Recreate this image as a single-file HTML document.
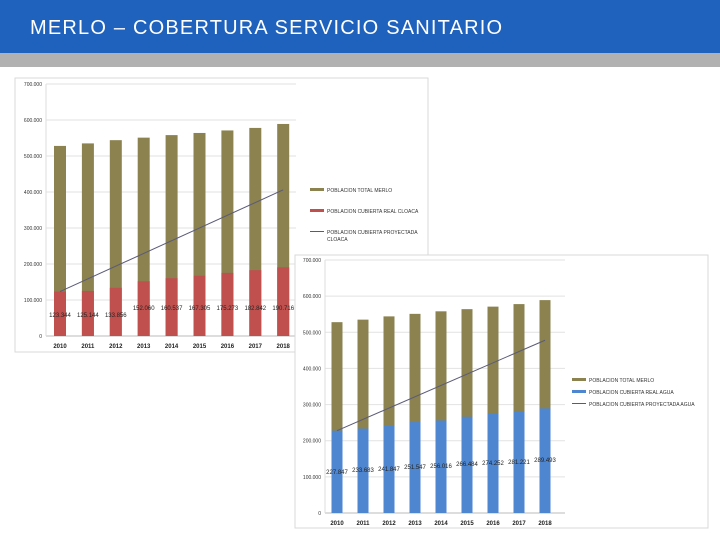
<!DOCTYPE html>
<html><head><meta charset="utf-8"><style>
html,body{margin:0;padding:0;background:#fff;width:720px;height:540px;overflow:hidden;font-family:"Liberation Sans",sans-serif}
#hdr{position:absolute;left:0;top:0;width:720px;height:53px;background:#1f62bd}
#hdr span{position:absolute;left:30px;top:17px;color:#fff;font-size:20px;letter-spacing:1.2px}
#strip{position:absolute;left:0;top:53px;width:720px;height:14px;background:#b1b1b1}
svg{position:absolute;left:0;top:0}
</style></head><body>
<div id="hdr"><span>MERLO – COBERTURA SERVICIO SANITARIO</span></div>
<div id="strip"></div>
<svg id="s" width="720" height="540"></svg>
<script>
const years=["2010","2011","2012","2013","2014","2015","2016","2017","2018"];
const totals=[528000,535000,544000,551000,558000,564000,571000,578000,589000];
const cloaca=[123344,125144,133856,152060,160537,167305,175273,182842,190716];
const cloacaLabels=["123.344","125.144","133.856","152.060","160.537","167.305","175.273","182.842","190.716"];
const cloacaProj=[123344,406000];
const agua=[227847,233683,241847,251547,256016,266484,274252,281221,289493];
const aguaLabels=["227.847","233.683","241.847","251.547","256.016","266.484","274.252","281.221","289.493"];
const aguaProj=[227847,478000];
const yTicks=[0,100000,200000,300000,400000,500000,600000,700000];
const yTickLabels=["0","100.000","200.000","300.000","400.000","500.000","600.000","700.000"];

const svg=document.getElementById('s');
const NS="http://www.w3.org/2000/svg";
function el(t,a,txt){const e=document.createElementNS(NS,t);for(const k in a)e.setAttribute(k,a[k]);if(txt!==undefined)e.textContent=txt;svg.appendChild(e);return e;}

function chart(cfg){
  const y=v=>cfg.y0-v*(cfg.y0-cfg.y7)/700000;
  const x=i=>cfg.x0+i*cfg.step;
  const fr=el('rect',{x:cfg.fx,y:cfg.fy,width:cfg.fw,height:cfg.fh,fill:'#fff',stroke:'#d9d9d9','stroke-width':1});
  
  
  yTicks.forEach((t,i)=>{
    if(t>0){const g=el('line',{x1:cfg.px,x2:cfg.px+cfg.pw,y1:y(t),y2:y(t),stroke:'#e2e2e2','stroke-width':1});
    
    }
    const l=el('text',{x:cfg.px-4,y:y(t)+2,'font-size':5,'text-anchor':'end',fill:'#333'},yTickLabels[i]);
    
    
  });
  const ax=el('line',{x1:cfg.px,x2:cfg.px+cfg.pw,y1:y(0),y2:y(0),stroke:'#bbb'});
  
  
  const ay=el('line',{x1:cfg.px,x2:cfg.px,y1:y(0),y2:y(700000),stroke:'#ddd'});
  
  
  years.forEach((yr,i)=>{
    const bw=cfg.bw;
    const t=el('rect',{x:x(i)-bw/2,y:y(totals[i]),width:bw,height:y(0)-y(totals[i]),fill:'#8b8250'});
    
    
    const c=el('rect',{x:x(i)-bw/2,y:y(cfg.vals[i]),width:bw,height:y(0)-y(cfg.vals[i]),fill:cfg.col});
    
    
    const xl=el('text',{x:x(i),y:y(0)+12,'font-size':6,'text-anchor':'middle',fill:'#222','font-weight':'bold'},yr);
    
    
    const vl=el('text',{x:x(i),y:cfg.lblY(i),'font-size':6,'text-anchor':'middle',fill:'#222'},cfg.labels[i]);
    
    
  });
  const ln=el('line',{x1:x(0),y1:y(cfg.proj[0]),x2:x(8),y2:y(cfg.proj[1]),stroke:'#5a5a78','stroke-width':1});
  
  
  cfg.legend.forEach((lg,i)=>{
    const ly=cfg.ly+i*cfg.lstep;
    const m=el('rect',{x:cfg.lx,y:ly-(lg[2]?1:2),width:14,height:lg[2]?1:3,fill:lg[1]});
    
    
    const tx=el('text',{x:cfg.lx+17,y:ly+2,'font-size':5,fill:'#333'},lg[0]);
    
    
    if(lg[3]){const t2=el('text',{x:cfg.lx+17,y:ly+9,'font-size':5,fill:'#333'},lg[3]);
    
    }
  });
}
chart({name:'cloaca-chart',fx:15,fy:78,fw:413,fh:274,px:46,pw:250,y0:336,y7:84,x0:60,step:27.9,bw:12,
  vals:cloaca,labels:cloacaLabels,col:'#c0504d',proj:cloacaProj,lblY:i=>i<3?317:310,
  lx:310,ly:190,lstep:21,legend:[["POBLACION TOTAL MERLO","#8b8250"],["POBLACION CUBIERTA REAL CLOACA","#c0504d"],["POBLACION CUBIERTA PROYECTADA","#5a5a78",1,"CLOACA"]]});
chart({name:'agua-chart',fx:295,fy:255,fw:413,fh:273,px:325,pw:240,y0:513,y7:260,x0:337,step:26,bw:11,
  vals:agua,labels:aguaLabels,col:'#4f86d0',proj:aguaProj,lblY:i=>[474,472,471,469,468,466,465,464,462][i],
  lx:572,ly:380,lstep:12,legend:[["POBLACION TOTAL MERLO","#8b8250"],["POBLACION CUBIERTA REAL AGUA","#4f86d0"],["POBLACION CUBIERTA PROYECTADA AGUA","#5a5a78",1]]});
</script>
</body></html>
